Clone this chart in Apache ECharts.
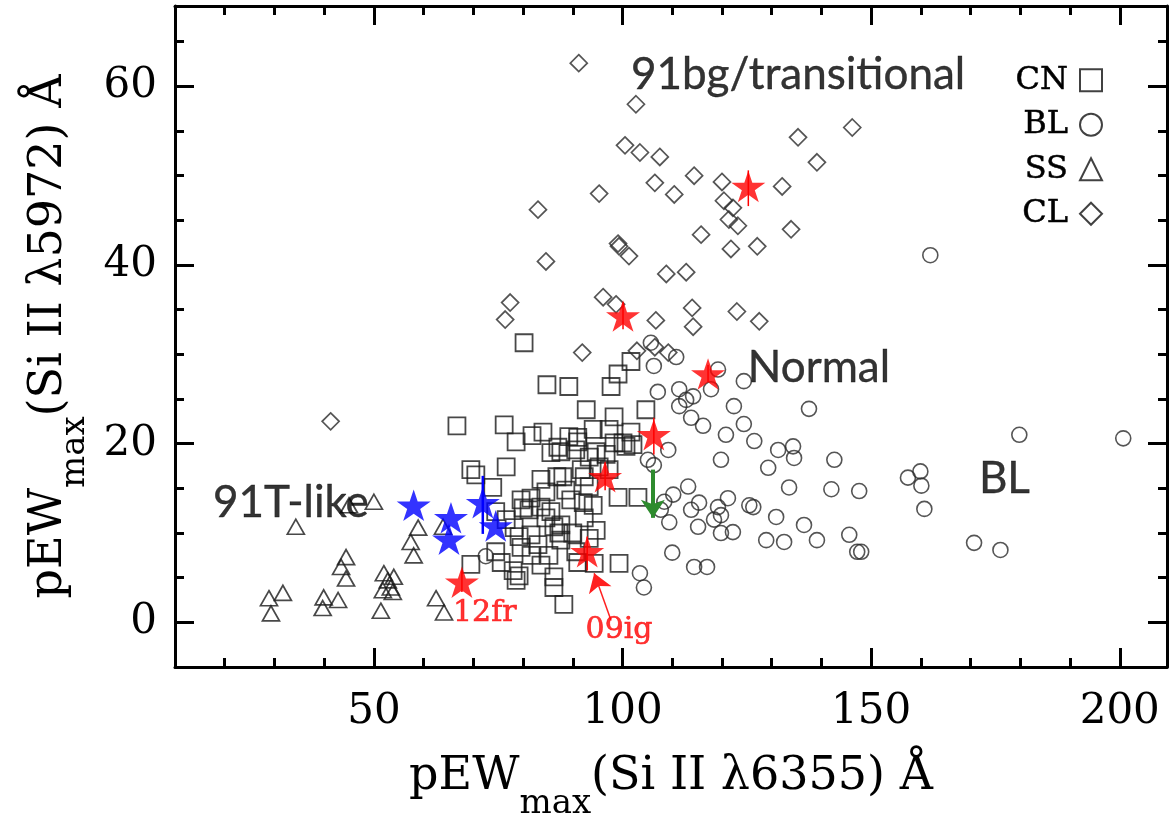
<!DOCTYPE html>
<html><head><meta charset="utf-8">
<script src="https://cdn.jsdelivr.net/npm/echarts@6/dist/echarts.min.js"></script>
<style>html,body{margin:0;padding:0;background:#fff}#chart{width:1169px;height:815px}</style>
</head><body><div id="chart"></div>
<script>
// ---- data (x = pEW Si II 6355, y = pEW Si II 5972) ----
const cnPoints = [[80.2,31.3],[84.8,26.6],[89.2,26.4],[97.7,26.4],[99.1,27.8],[101.7,29.2],
[66.7,22.0],[76.2,22.1],[78.6,20.2],[81.8,20.9],[84.0,21.3],[85.6,19.0],[87.0,19.6],
[76.6,17.4],[69.5,17.1],[70.5,16.5],[73.9,15.1],[83.6,16.0],[86.8,16.3],
[79.6,13.7],[81.6,13.9],[80.0,12.8],[81.2,12.6],[83.6,12.9],[85.6,12.4],[84.6,11.7],[86.2,10.7],[87.6,10.9],
[78.2,10.6],[79.2,9.6],[81.6,9.8],[83.0,8.7],[79.6,8.4],[81.6,7.5],[74.5,7.9],[75.6,6.7],[69.5,6.5],
[78.0,5.8],[78.6,4.7],[79.2,5.2],[86.2,5.1],[86.2,3.9],[88.2,2.0],
[92.7,23.8],[98.3,23.0],[104.7,23.8],[91.0,20.7],[94.1,21.6],[97.3,21.6],[101.7,21.3],[100.1,20.1],[102.1,19.9],[94.7,19.1],[91.0,20.2],[87.6,19.1],
[88.0,16.3],[92.3,16.3],[97.3,17.1],[93.3,15.2],[99.1,14.0],[103.1,14.0],[92.1,13.4],[94.1,13.1],[92.3,11.7],
[87.2,10.0],[90.0,10.0],[94.7,10.3],[93.3,9.4],[90.6,7.9],[94.3,6.6],[99.3,6.6],[91.0,6.7],
[89.2,20.8],[90.6,19.3],[93.3,18.5],[91.7,17.1],[95.3,17.4],[98.3,20.1],[100.7,19.7],[96.7,18.8],
[88.6,14.8],[89.6,13.7],[84.6,14.6],[87.6,9.2],[85.2,7.5],[83.6,6.4],[76.6,11.5],[74.5,12.4]];

const blPoints = [[161.9,41.1],[179.8,21.0],[200.7,20.6],[170.7,8.9],[176.0,8.1],
[105.7,31.3],[110.8,29.7],[106.3,28.7],[119.2,28.3],[117.8,26.1],[124.4,27.0],[107.1,25.8],[111.4,26.1],[112.8,24.9],[114.2,25.3],[111.4,24.2],[137.5,23.9],[122.4,24.2],[113.8,22.9],[116.2,22.0],[124.4,22.2],[120.8,21.0],[126.5,20.3],[109.2,19.3],[131.3,19.3],[134.3,19.7],[134.5,18.4],[119.8,18.2],[129.3,17.3],[142.6,18.2],[105.1,18.2],[106.3,17.6],[133.5,15.1],[142.0,14.9],[147.6,14.7],[157.4,16.2],[159.9,16.9],[160.1,15.3],[160.7,12.7],
[113.2,15.2],[110.2,14.3],[108.4,13.5],[121.2,13.9],[115.4,13.4],[113.8,12.6],[119.2,12.9],[125.5,13.1],[126.3,12.9],[119.8,12.0],[118.4,11.5],[109.4,11.2],[115.2,10.7],[119.8,10.0],[122.2,10.1],[130.9,11.8],[136.5,10.9],[128.9,9.2],[132.5,9.0],[139.1,9.2],[145.6,9.8],[147.2,7.9],[148.0,7.9],[110.0,7.8],[114.4,6.2],[117.0,6.2],[103.5,5.5],[104.3,3.9],[107.7,12.6],[72.5,7.4]];

const ssPoints = [[50.0,13.5],[45.0,13.1],[34.3,10.7],[44.4,7.3],[43.4,6.2],[44.4,4.9],[28.9,2.7],[31.7,3.3],[29.3,1.0],[39.9,2.8],[39.7,1.6],[42.8,2.5],[51.4,1.3],[52.0,5.5],[52.8,4.7],[53.4,3.9],[51.8,3.6],[54.0,5.1],[53.8,3.4],[58.9,10.6],[57.4,9.0],[58.0,7.5],[62.5,2.7],[64.1,1.1],[63.9,10.7]];

const clPoints = [[91.2,62.6],[102.7,58.0],[100.5,53.4],[103.5,52.6],[107.5,52.1],[146.2,55.4],[135.3,54.3],[139.1,51.5],[95.3,48.0],[106.5,49.2],[110.4,47.9],[114.4,50.0],[120.0,49.3],[132.1,48.8],[120.4,47.2],[122.2,46.4],[121.4,45.1],[123.2,44.4],[115.8,43.4],[133.9,44.0],[99.1,42.4],[99.3,42.1],[101.3,41.0],[121.8,41.8],[127.1,42.1],[108.8,39.0],[112.8,39.2],[83.0,46.2],[84.6,40.4],[77.4,35.8],[76.4,33.9],[96.1,36.4],[98.7,35.6],[114.0,35.2],[106.7,33.8],[114.2,33.1],[123.0,34.8],[127.5,33.7],[91.9,30.2],[102.9,30.4],[106.5,30.8],[109.2,30.2],[41.3,22.5]];

const redStars = [[125.3,48.8],[100.1,34.3],[117.2,27.8],[106.3,21.0],[96.5,16.3],[92.9,7.9],[67.7,4.5]];
const redErrors = [[125.3,46.6,50.6],[100.1,32.8,35.8],[117.2,26.9,28.8],[106.3,18.8,22.9],[96.5,14.8,17.9],[92.9,5.8,9.6],[67.7,3.4,5.8]];
const blueStars = [[58.0,13.1],[65.5,11.7],[65.1,9.3],[71.9,13.4],[74.5,10.8]];
const blueErrors = [[71.9,9.9,16.4]];
const greenArrow = [[106.1,17.1],[106.1,11.7]];
const redArrow = [[97.7,0.2],[94.3,5.5]];

const classNames = ['CN','BL','SS','CL'];
const xMajorTicks = [50,100,150,200];
const yMajorTicks = [0,20,40,60];
const annotationTexts = ['91bg/transitional','Normal','BL','91T-like'];
const annotationPos = [[135.3,61.3],[139.5,28.5],[176.8,16.1],[33.3,13.4]];
const redLabelTexts = ['12fr','09ig'];
const redLabelPos = [[72.3,1.0],[99.3,-0.9]];

// ---- chart ----
const SERIF = 'DejaVu Serif';
const SANS = 'Lato';
const STAR = 'path://M50 0 L61.8 35.4 L100 35.4 L69.1 57.3 L80.9 92.7 L50 70.8 L19.1 92.7 L30.9 57.3 L0 35.4 L38.2 35.4 Z';
const lineStyle = {color:'#000', width:3};
const nameRich = {
  a:{fontFamily:SERIF, fontSize:46, color:'#000', lineHeight:52, verticalAlign:'top'},
  s:{fontFamily:SERIF, fontSize:34, color:'#000', lineHeight:34, padding:[33,0,0,0], verticalAlign:'top'}
};
function minorAxis(pos, min, max, interval){
  return {type:'value', position:pos, min:min, max:max, interval:interval,
    axisLine:{show:true, onZero:false, lineStyle:lineStyle},
    axisTick:{show:true, inside:true, length:9, lineStyle:{color:'#000', width:3}},
    axisLabel:{show:false}, splitLine:{show:false}};
}
function majorAxis(pos, min, max, ticks, withLabel){
  return {type:'value', position:pos, min:min, max:max, splitNumber:4,
    axisLine:{show:false, onZero:false},
    axisTick:{show:true, inside:true, length:19, lineStyle:{color:'#000', width:3}},
    axisLabel:{show:withLabel, fontFamily:SERIF, fontSize:42, color:'#000', margin:20,
      showMinLabel:false, showMaxLabel:false,
      formatter:v => ticks.indexOf(v) >= 0 ? String(v) : ''},
    splitLine:{show:false}};
}
const xMin = 10, xMax = 209.5, yMin = -5, yMax = 69;
const xLab = majorAxis('bottom', xMin, xMax, xMajorTicks, true);
xLab.axisLabel.margin = 24;
Object.assign(xLab, {name:'{a|pEW}{s|max}{a|(Si II λ6355) Å}', nameLocation:'middle', nameGap:87, nameTextStyle:{rich:nameRich}});
const yLab = majorAxis('left', yMin, yMax, yMajorTicks, true);
yLab.axisLabel.margin = 18;
Object.assign(yLab, {name:'{a|pEW}{s|max}{a|(Si II λ5972) Å}', nameLocation:'middle', nameGap:96, nameTextStyle:{rich:nameRich}});

const hollow = (c, w) => ({color:'rgba(0,0,0,0)', borderColor:c, borderWidth:w});
function errRender(color, width){
  return function(params, api){
    const p1 = api.coord([api.value(0), api.value(1)]);
    const p2 = api.coord([api.value(0), api.value(2)]);
    return {type:'line', shape:{x1:p1[0], y1:p1[1], x2:p2[0], y2:p2[1]}, style:{stroke:color, lineWidth:width}};
  };
}
const textLabel = (family, size, color, stroke) => ({show:true, position:'inside', formatter:p => p.name,
  fontFamily:family, fontSize:size, color:color, textBorderColor:color, textBorderWidth:stroke, textShadowBlur:0});

const option = {
  animation:false,
  backgroundColor:'#fff',
  grid:{left:175, right:2, top:6, bottom:148, containLabel:false, outerBoundsMode:'none'},
  xAxis:[minorAxis('bottom', xMin, xMax, 10), xLab, minorAxis('top', xMin, xMax, 10), majorAxis('top', xMin, xMax, xMajorTicks, false)],
  yAxis:[minorAxis('left', yMin, yMax, 5), yLab, minorAxis('right', yMin, yMax, 5), majorAxis('right', yMin, yMax, yMajorTicks, false)],
  legend:{orient:'vertical', right:61, top:59, itemWidth:22, itemHeight:22, itemGap:12, align:'right', selectedMode:false,
    data:[{name:classNames[0], icon:'rect'},{name:classNames[1], icon:'circle'},{name:classNames[2], icon:'triangle'},{name:classNames[3], icon:'diamond'}],
    itemStyle:{color:'rgba(0,0,0,0)', borderColor:'#111', borderWidth:2},
    textStyle:{fontFamily:SERIF, fontSize:32, color:'#000', textBorderColor:'#000', textBorderWidth:0.5, padding:[0,7,0,0]}},
  series:[
    {name:classNames[0], type:'scatter', symbol:'rect', symbolSize:17, data:cnPoints, itemStyle:hollow('#1a1a1a', 1.8), emphasis:{disabled:true}},
    {name:classNames[1], type:'scatter', symbol:'circle', symbolSize:15, data:blPoints, itemStyle:hollow('#2a2a2a', 1.6), emphasis:{disabled:true}},
    {name:classNames[2], type:'scatter', symbol:'triangle', symbolSize:[17,15], data:ssPoints, itemStyle:hollow('#1a1a1a', 1.7), emphasis:{disabled:true}},
    {name:classNames[3], type:'scatter', symbol:'diamond', symbolSize:17, data:clPoints, itemStyle:hollow('#2a2a2a', 1.7), emphasis:{disabled:true}},
    {type:'custom', data:redErrors, encode:{x:0, y:[1,2]}, renderItem:errRender('#ff0000', 1.5), z:3},
    {type:'custom', data:blueErrors, encode:{x:0, y:[1,2]}, renderItem:errRender('#0000ff', 2.5), z:3},
    {type:'scatter', symbol:STAR, symbolKeepAspect:true, symbolSize:34, data:redStars, itemStyle:{color:'#ff0000'}, z:4, emphasis:{disabled:true}},
    {type:'scatter', symbol:STAR, symbolKeepAspect:true, symbolSize:34, data:blueStars, itemStyle:{color:'#0000ff'}, z:4, emphasis:{disabled:true}},
    {type:'lines', coordinateSystem:'cartesian2d', data:[{coords:greenArrow}], symbol:['none','arrow'], symbolSize:[18,18], lineStyle:{color:'#2e8b2e', width:4, opacity:1}, z:5},
    {type:'lines', coordinateSystem:'cartesian2d', data:[{coords:redArrow}], symbol:['none','arrow'], symbolSize:[13,18], lineStyle:{color:'#ff2020', width:1.5, opacity:1}, z:5},
    {type:'scatter', symbolSize:0, silent:true, z:6, itemStyle:{color:'rgba(0,0,0,0)'},
      data:annotationTexts.map((t,i) => ({value:annotationPos[i], name:t})),
      label:textLabel(SANS, 44, '#000', 0.4)},
    {type:'scatter', symbolSize:0, silent:true, z:6, itemStyle:{color:'rgba(0,0,0,0)'},
      data:redLabelTexts.map((t,i) => ({value:redLabelPos[i], name:t})),
      label:textLabel(SERIF, 30, '#ff0000', 0.6)}
  ]
};
const chart = echarts.init(document.getElementById('chart'), null, {renderer:'canvas'});
chart.setOption(option);
</script></body></html>
